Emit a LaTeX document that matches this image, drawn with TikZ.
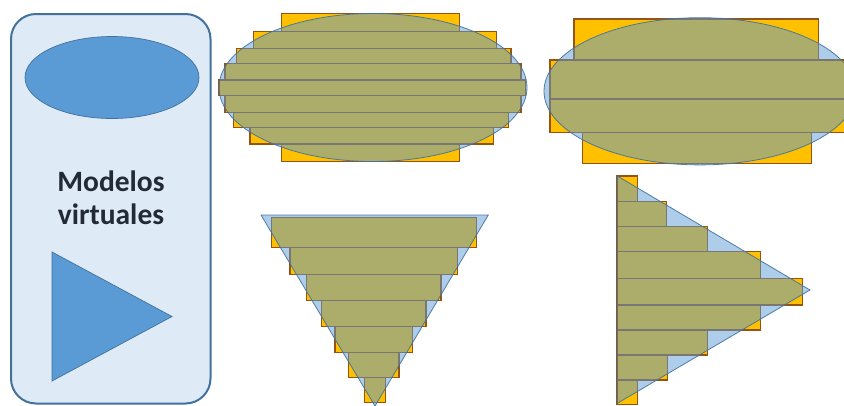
\documentclass[tikz,border=0pt]{standalone}
\usepackage{fontspec}
\setmainfont{Carlito}
\definecolor{panelfill}{RGB}{222,234,246}
\definecolor{panelline}{RGB}{65,113,156}
\definecolor{shapeblue}{RGB}{91,155,213}
\definecolor{barorange}{RGB}{255,192,0}
\definecolor{barline}{RGB}{150,84,18}
\definecolor{textdark}{RGB}{34,42,53}
\tikzset{
  panel/.style={fill=panelfill, draw=panelline, line width=2pt, rounded corners=25pt},
  solidshape/.style={fill=shapeblue, draw=panelline, line width=0.7pt},
  bar/.style={fill=barorange, draw=barline, line width=1.1pt},
  veil/.style={fill=shapeblue, fill opacity=0.5, draw=panelline, draw opacity=0.9, line width=0.8pt},
  title/.style={font=\bfseries\fontsize{29.5}{33.3}\selectfont, text=textdark, align=center}
}
\begin{document}
\begin{tikzpicture}[x=1pt,y=-1pt]
\useasboundingbox (0,0) rectangle (844,405);
\clip (0,0) rectangle (844,405);
% left panel
\draw[panel] (11,14) rectangle (210.5,403.5);
\draw[solidshape] (112,77.5) ellipse [x radius=87pt, y radius=41pt];
\node[title] (lbl) at (111,198) {Modelos\\virtuales};
\draw[solidshape] (52,252) -- (52,381) -- (172,316.5) -- cycle;
% top-left: ellipse approximated by bars
\foreach \a/\b/\c/\d in {281.7/13.3/459.3/31.7, 253.3/31.7/496.7/48.3, 236.7/48.3/511/63.3,
  225/63.3/521/80, 219/80/525.7/95.7, 225/95.7/521/112.3, 233.3/112.3/508.3/127.3,
  250/127.3/493.3/144, 281.7/144/459.3/161.7}
  \draw[bar] (\a,\b) rectangle (\c,\d);
\draw[veil] (373,87.5) ellipse [x radius=154pt, y radius=74pt];
% top-right: ellipse approximated by few bars
\foreach \a/\b/\c/\d in {574/19/818.3/60, 550/60/860/99, 550/99/860/132.3, 582.3/132.3/811.7/163.3}
  \draw[bar] (\a,\b) rectangle (\c,\d);
\draw[veil] (700,91.3) ellipse [x radius=156pt, y radius=73.6pt];
% bottom-middle: inverted triangle
\foreach \a/\b/\c/\d in {271.7/217.7/476.7/247.3, 290/247.3/457.7/274.5, 306.7/274.5/441/300.7,
  321.7/300.7/426/326.7, 335/326.7/412.7/352.3, 348.3/352.3/399/377.3, 364.3/377.3/385.7/402.3}
  \draw[bar] (\a,\b) rectangle (\c,\d);
\draw[veil] (261,215) -- (488.3,215) -- (375,406) -- cycle;
% bottom-right: right-pointing triangle
\foreach \r/\b/\d in {637.7/176/201.7, 666.7/201.7/226.7, 707.3/226.7/251.3, 760.7/251.3/278.3,
  802.7/278.3/305, 760.7/305/330, 707.3/330/355, 667.3/355/380, 637.7/380/404.3}
  \draw[bar] (617,\b) rectangle (\r,\d);
\draw[veil] (617.3,176) -- (810,290) -- (617.3,403.3) -- cycle;
\end{tikzpicture}
\end{document}
